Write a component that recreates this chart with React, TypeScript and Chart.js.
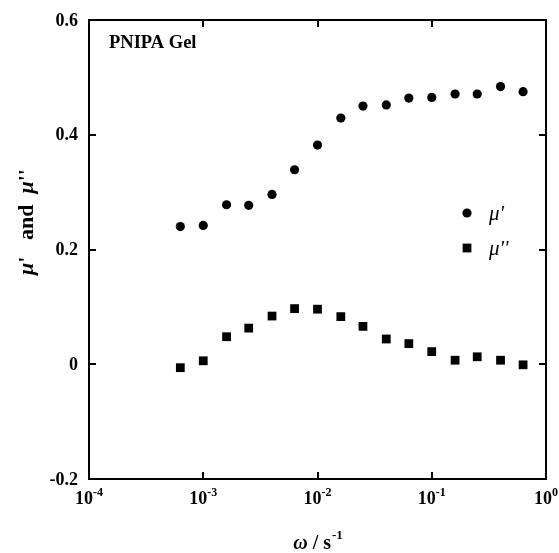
import React, { useEffect, useRef } from "react";
import { Chart, registerables } from "chart.js";

Chart.register(...registerables);

// ---- data ----
const omega = [6.3e-4, 1e-3, 1.6e-3, 2.5e-3, 4.0e-3, 6.3e-3, 1e-2, 1.6e-2, 2.5e-2, 4.0e-2, 6.3e-2, 1e-1, 1.6e-1, 2.5e-1, 4.0e-1, 6.3e-1];
const muPrime = [0.240, 0.242, 0.278, 0.277, 0.296, 0.339, 0.382, 0.429, 0.450, 0.452, 0.464, 0.465, 0.471, 0.471, 0.484, 0.475];
const muDoublePrime = [-0.006, 0.006, 0.048, 0.063, 0.084, 0.097, 0.096, 0.083, 0.066, 0.044, 0.036, 0.022, 0.007, 0.013, 0.007, -0.001];
const xTickValues = [1e-4, 1e-3, 1e-2, 1e-1, 1];
const xTickExponents = ["-4", "-3", "-2", "-1", "0"];
const yTickValues = [-0.2, 0, 0.2, 0.4, 0.6];
const yTickLabels = ["-0.2", "0", "0.2", "0.4", "0.6"];
const seriesNames = ["\u03bc'", "\u03bc''"];
const annotationText = "PNIPA Gel";

const SERIF = "'Liberation Serif', 'DejaVu Serif', serif";

const decorPlugin = {
  id: "decor",
  afterDraw(chart: any) {
    const ctx: CanvasRenderingContext2D = chart.ctx;
    const xs = chart.scales.x;
    const ys = chart.scales.y;
    const a = chart.chartArea;
    ctx.save();
    ctx.strokeStyle = "#000";
    ctx.fillStyle = "#000";
    ctx.lineWidth = 2;
    // frame
    ctx.strokeRect(a.left, a.top, a.right - a.left, a.bottom - a.top);
    // ticks
    const tl = 7;
    ctx.beginPath();
    xTickValues.forEach((v) => {
      const px = Math.round(xs.getPixelForValue(v));
      ctx.moveTo(px, a.bottom);
      ctx.lineTo(px, a.bottom - tl);
      ctx.moveTo(px, a.top);
      ctx.lineTo(px, a.top + tl);
    });
    yTickValues.forEach((v) => {
      const py = Math.round(ys.getPixelForValue(v));
      ctx.moveTo(a.left, py);
      ctx.lineTo(a.left + tl, py);
      ctx.moveTo(a.right, py);
      ctx.lineTo(a.right - tl, py);
    });
    ctx.stroke();

    // y tick labels
    ctx.font = `bold 18px ${SERIF}`;
    ctx.textAlign = "right";
    ctx.textBaseline = "middle";
    yTickValues.forEach((v, i) => {
      const py = ys.getPixelForValue(v);
      ctx.fillText(yTickLabels[i], a.left - 11, py + 1);
    });

    // x tick labels 10^n
    xTickValues.forEach((v, i) => {
      const px = xs.getPixelForValue(v);
      ctx.font = `bold 18px ${SERIF}`;
      const wb = ctx.measureText("10").width;
      ctx.font = `bold 12px ${SERIF}`;
      const we = ctx.measureText(xTickExponents[i]).width;
      const start = px - (wb + we) / 2;
      ctx.textAlign = "left";
      ctx.textBaseline = "alphabetic";
      ctx.font = `bold 18px ${SERIF}`;
      ctx.fillText("10", start, a.bottom + 25);
      ctx.font = `bold 12px ${SERIF}`;
      ctx.fillText(xTickExponents[i], start + wb, a.bottom + 17);
    });

    // x axis title: ω / s^-1
    {
      const base = a.bottom + 70;
      ctx.textAlign = "left";
      ctx.textBaseline = "alphabetic";
      ctx.font = `italic bold 20px ${SERIF}`;
      const w1 = ctx.measureText("\u03c9").width;
      ctx.font = `bold 20px ${SERIF}`;
      const w2 = ctx.measureText(" / s").width;
      ctx.font = `bold 13px ${SERIF}`;
      const w3 = ctx.measureText("-1").width;
      const cx = (a.left + a.right) / 2;
      let x0 = cx - (w1 + w2 + w3) / 2;
      ctx.font = `italic bold 20px ${SERIF}`;
      ctx.fillText("\u03c9", x0, base);
      x0 += w1;
      ctx.font = `bold 20px ${SERIF}`;
      ctx.fillText(" / s", x0, base);
      x0 += w2;
      ctx.font = `bold 13px ${SERIF}`;
      ctx.fillText("-1", x0 + 1, base - 10);
    }

    // y axis title: μ' and μ''
    {
      const pieces: [string, string][] = [
        ["\u03bc", "italic bold 22px"],
        ["'", "bold 22px"],
        ["   and  ", "bold 22px"],
        ["\u03bc", "italic bold 22px"],
        ["''", "bold 22px"],
      ];
      let total = 0;
      const widths = pieces.map(([t, f]) => {
        ctx.font = `${f} ${SERIF}`;
        const w = ctx.measureText(t).width;
        total += w;
        return w;
      });
      ctx.save();
      ctx.translate(33, 222);
      ctx.rotate(-Math.PI / 2);
      ctx.textAlign = "left";
      ctx.textBaseline = "alphabetic";
      let x0 = -total / 2;
      pieces.forEach(([t, f], i) => {
        ctx.font = `${f} ${SERIF}`;
        ctx.fillText(t, x0, 0);
        x0 += widths[i];
      });
      ctx.restore();
    }

    // annotation
    ctx.font = `bold 18.5px ${SERIF}`;
    ctx.textAlign = "left";
    ctx.textBaseline = "middle";
    ctx.fillText(annotationText, a.left + 20, a.top + 23);

    // legend
    const lx = 467;
    const ly = [213, 248];
    chart.data.datasets.forEach((ds: any, i: number) => {
      ctx.fillStyle = "#000";
      if (ds.pointStyle === "circle") {
        ctx.beginPath();
        ctx.arc(lx, ly[i], ds.pointRadius, 0, Math.PI * 2);
        ctx.fill();
      } else {
        const s = ds.pointRadius * Math.SQRT1_2;
        ctx.fillRect(lx - s, ly[i] - s, 2 * s, 2 * s);
      }
      ctx.font = `italic 21px ${SERIF}`;
      ctx.textAlign = "left";
      ctx.textBaseline = "middle";
      ctx.fillText(seriesNames[i], lx + 22, ly[i] + 1);
    });

    ctx.restore();
  },
};

export default function App() {
  const ref = useRef<HTMLCanvasElement | null>(null);
  useEffect(() => {
    if (!ref.current) return;
    const chart = new Chart(ref.current, {
      type: "scatter",
      data: {
        datasets: [
          {
            label: seriesNames[0],
            data: omega.map((x, i) => ({ x, y: muPrime[i] })),
            pointStyle: "circle",
            pointRadius: 4.6,
            backgroundColor: "#000",
            borderColor: "#000",
            borderWidth: 0,
            showLine: false,
          },
          {
            label: seriesNames[1],
            data: omega.map((x, i) => ({ x, y: muDoublePrime[i] })),
            pointStyle: "rect",
            pointRadius: 6.2,
            backgroundColor: "#000",
            borderColor: "#000",
            borderWidth: 0,
            showLine: false,
          },
        ],
      },
      options: {
        responsive: false,
        animation: false,
        layout: { padding: { left: 89, right: 13, top: 20, bottom: 74 } },
        plugins: { legend: { display: false }, tooltip: { enabled: false } },
        scales: {
          x: { type: "logarithmic", min: 1e-4, max: 1, display: false },
          y: { type: "linear", min: -0.2, max: 0.6, display: false },
        },
      },
      plugins: [decorPlugin],
    } as any);
    return () => chart.destroy();
  }, []);
  return (
    <div style={{ position: "absolute", left: 0, top: 0, width: 559, height: 553, background: "#fff" }}>
      <canvas ref={ref} width={559} height={553} style={{ width: 559, height: 553, display: "block" }} />
    </div>
  );
}
